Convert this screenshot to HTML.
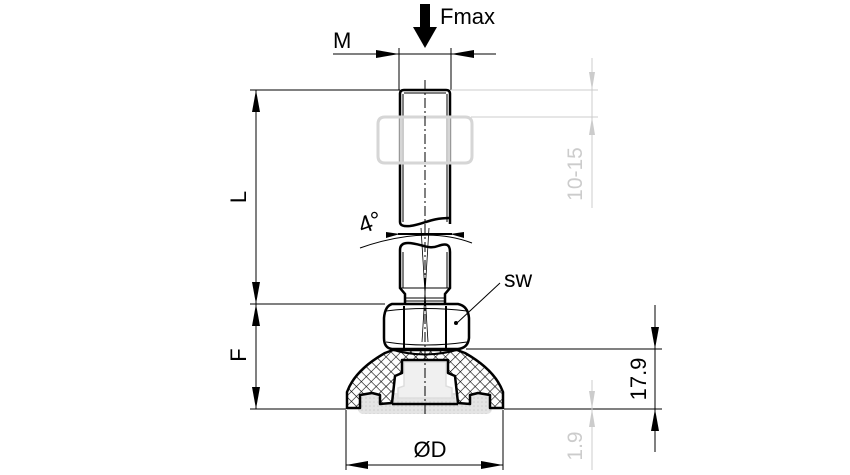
<!DOCTYPE html>
<html><head><meta charset="utf-8"><style>
html,body{margin:0;padding:0;background:#fff;}
svg{display:block;}
text{font-family:"Liberation Sans","DejaVu Sans",sans-serif;}
</style></head><body>
<svg width="850" height="475" viewBox="0 0 850 475" xmlns="http://www.w3.org/2000/svg">
<defs>
<pattern id="hatch" width="7" height="7" patternUnits="userSpaceOnUse" patternTransform="rotate(45)">
<rect width="7" height="7" fill="#fff"/>
<line x1="0" y1="0" x2="0" y2="7" stroke="#000" stroke-width="1.2"/>
<line x1="0" y1="0" x2="7" y2="0" stroke="#000" stroke-width="1.2"/>
</pattern>
<pattern id="dots" width="4" height="4" patternUnits="userSpaceOnUse">
<rect width="4" height="4" fill="#e4e4e4"/>
<circle cx="2" cy="2" r="0.8" fill="#cdcdcd"/>
</pattern>
</defs>

<!-- Fmax arrow -->
<rect x="420" y="4" width="10" height="24" fill="#000"/>
<polygon points="413,27 437,27 425,48" fill="#000"/>
<text x="440" y="24" font-size="22">Fmax</text>

<!-- M dim -->
<text x="333" y="48" font-size="22">M</text>
<line x1="333" y1="54" x2="496" y2="54" stroke="#000" stroke-width="1"/>
<polygon points="399,54 376,50 376,58" fill="#000"/>
<polygon points="451,54 474,50 474,58" fill="#000"/>
<line x1="399" y1="48" x2="399" y2="90" stroke="#000" stroke-width="1"/>
<line x1="451" y1="48" x2="451" y2="90" stroke="#000" stroke-width="1"/>

<!-- horizontal ref lines -->
<line x1="250" y1="90" x2="400" y2="90" stroke="#000" stroke-width="1"/>
<line x1="451" y1="90" x2="598" y2="90" stroke="#ccc" stroke-width="1"/>
<line x1="471" y1="117" x2="598" y2="117" stroke="#ccc" stroke-width="1"/>
<line x1="250" y1="304" x2="385" y2="304" stroke="#000" stroke-width="1"/>
<line x1="250" y1="409" x2="346" y2="409" stroke="#000" stroke-width="1"/>
<line x1="466" y1="349" x2="662" y2="349" stroke="#000" stroke-width="1"/>
<line x1="504" y1="409" x2="662" y2="409" stroke="#000" stroke-width="1"/>

<!-- L / F dim -->
<line x1="256" y1="90" x2="256" y2="409" stroke="#000" stroke-width="1"/>
<polygon points="256,90 252,112 260,112" fill="#000"/>
<polygon points="256,304 252,282 260,282" fill="#000"/>
<polygon points="256,304 252,326 260,326" fill="#000"/>
<polygon points="256,409 252,387 260,387" fill="#000"/>
<text transform="translate(246,197) rotate(-90)" font-size="22" text-anchor="middle">L</text>
<text transform="translate(246,355) rotate(-90)" font-size="22" text-anchor="middle">F</text>

<!-- gray 10-15 dim -->
<line x1="592" y1="58" x2="592" y2="208" stroke="#ccc" stroke-width="1"/>
<polygon points="592,90 589,72 595,72" fill="#ccc"/>
<polygon points="592,117 589,135 595,135" fill="#ccc"/>
<text transform="translate(582,174) rotate(-90)" font-size="21" fill="#ccc" text-anchor="middle">10-15</text>
<!-- gray 1.9 -->
<line x1="592" y1="380" x2="592" y2="470" stroke="#ccc" stroke-width="1"/>
<polygon points="592,409 589,391 595,391" fill="#ccc"/>
<polygon points="592,409 589,427 595,427" fill="#ccc"/>
<text transform="translate(582,446) rotate(-90)" font-size="21" fill="#ccc" text-anchor="middle">1.9</text>

<!-- 17.9 dim -->
<line x1="655" y1="305" x2="655" y2="452" stroke="#000" stroke-width="1"/>
<polygon points="655,349 651,327 659,327" fill="#000"/>
<polygon points="655,409 651,431 659,431" fill="#000"/>
<text transform="translate(646,379) rotate(-90)" font-size="22" text-anchor="middle">17.9</text>

<!-- ØD dim -->
<line x1="346" y1="410" x2="346" y2="470" stroke="#000" stroke-width="1"/>
<line x1="503" y1="410" x2="503" y2="470" stroke="#000" stroke-width="1"/>
<line x1="346" y1="465" x2="503" y2="465" stroke="#000" stroke-width="1"/>
<polygon points="346,465 368,461 368,469" fill="#000"/>
<polygon points="503,465 481,461 481,469" fill="#000"/>
<text x="430" y="457" font-size="22" text-anchor="middle">ØD</text>

<!-- Rod upper -->
<path d="M400,222 L400,94 Q400,90 404,90 L446,90 Q450,90 450,94 L450,224" fill="none" stroke="#000" stroke-width="2.5"/>
<line x1="404" y1="93" x2="446" y2="93" stroke="#000" stroke-width="1"/>
<line x1="403" y1="94" x2="403" y2="222" stroke="#000" stroke-width="1"/>
<line x1="447" y1="94" x2="447" y2="222" stroke="#000" stroke-width="1"/>
<path d="M400,222 Q400,227 410,226 C425,224 430,218 450,218" fill="none" stroke="#000" stroke-width="2.5"/>
<!-- gray nut -->
<path d="M385,117 L465,117 Q472,117 472,124 L472,156 Q472,163 465,163 L385,163 Q378,163 378,156 L378,124 Q378,117 385,117 Z" fill="#fff" fill-opacity="0.6" stroke="#d6d6d6" stroke-width="3"/>
<line x1="401" y1="118" x2="401" y2="162" stroke="#d6d6d6" stroke-width="2"/>
<line x1="449" y1="118" x2="449" y2="162" stroke="#d6d6d6" stroke-width="2"/>

<!-- 4 deg -->
<path d="M360,248 Q425,225 472,243" fill="none" stroke="#000" stroke-width="1"/>
<polygon points="400,234 386,232 386,238" fill="#000"/>
<polygon points="450,234 464,232 464,238" fill="#000"/>
<line x1="398" y1="234" x2="452" y2="234" stroke="#000" stroke-width="2"/>
<text transform="translate(362,234) rotate(-20)" font-size="24">4°</text>

<!-- Rod lower -->
<path d="M400,250 Q400,243 408,243 C420,243 428,250 438,246 C446,243 450,244 450,252" fill="none" stroke="#000" stroke-width="2.5"/>
<path d="M400,250 L400,288 L405,294 L405,303 M450,252 L450,288 L445,294 L445,303" fill="none" stroke="#000" stroke-width="2.5"/>
<line x1="403" y1="252" x2="403" y2="288" stroke="#000" stroke-width="1"/>
<line x1="447" y1="252" x2="447" y2="288" stroke="#000" stroke-width="1"/>
<line x1="401" y1="288" x2="449" y2="288" stroke="#000" stroke-width="1"/>
<line x1="405" y1="298" x2="445" y2="298" stroke="#000" stroke-width="1"/>
<line x1="405" y1="301" x2="445" y2="301" stroke="#000" stroke-width="1"/>

<!-- Base -->
<rect x="358" y="393" width="134" height="21" rx="5" fill="url(#dots)"/>
<path d="M404,362 L446,362 L446,386 L452,388 L452,398 L398,398 L398,388 L404,386 Z" fill="#f0f0f0" stroke="#ddd" stroke-width="1.5"/>
<path d="M347,408 L347,392 Q355,370 385,353 L393,350 L457,350 L465,353 Q495,370 503,392 L503,408 L490,408 L490,395 L478,393 L470,395 L470,404 L458,403 L455,376 L448,373 L448,360 L402,360 L402,373 L395,376 L392,403 L380,404 L380,395 L372,393 L360,395 L360,408 Z" fill="url(#hatch)" stroke="#000" stroke-width="2.5" stroke-linejoin="round"/>
<line x1="392" y1="404" x2="458" y2="404" stroke="#000" stroke-width="2.5"/>

<!-- Hex nut -->
<path d="M392,304 L458,304 Q468,306 469,318 L469,338 Q468,348 458,349 L392,349 Q384,348 384,338 L384,318 Q385,306 392,304 Z" fill="#fff" stroke="#000" stroke-width="2.5"/>
<line x1="404" y1="306" x2="404" y2="348" stroke="#000" stroke-width="2"/>
<line x1="446" y1="306" x2="446" y2="348" stroke="#000" stroke-width="2"/>
<path d="M386,311 Q425,306 467,311" fill="none" stroke="#000" stroke-width="1"/>
<path d="M386,342 Q425,348 467,342" fill="none" stroke="#000" stroke-width="1"/>
<path d="M390,349 Q425,360 460,349" fill="none" stroke="#000" stroke-width="2"/>

<!-- centerlines -->
<line x1="425" y1="80" x2="425" y2="415" stroke="#000" stroke-width="1" stroke-dasharray="10,3,2,3"/>
<line x1="421" y1="228" x2="428" y2="342" stroke="#000" stroke-width="0.8"/>
<line x1="429" y1="228" x2="422" y2="342" stroke="#000" stroke-width="0.8"/>

<!-- SW -->
<text x="504" y="287" font-size="23">sw</text>
<line x1="500" y1="283" x2="457" y2="323" stroke="#000" stroke-width="1"/>
<circle cx="456" cy="323" r="2" fill="#000"/>
</svg>
</body></html>
